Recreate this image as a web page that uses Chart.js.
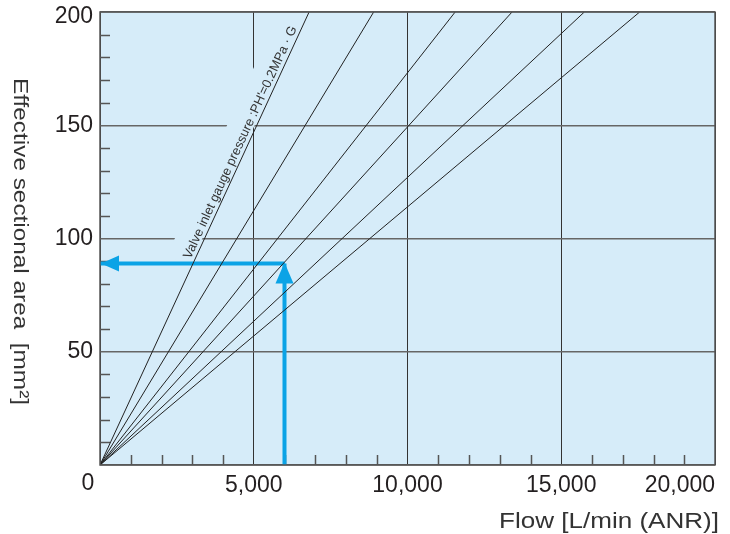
<!DOCTYPE html>
<html>
<head>
<meta charset="utf-8">
<script src="https://cdn.jsdelivr.net/npm/chart.js@4.4.1/dist/chart.umd.min.js"></script>
<style>
  html, body { margin: 0; padding: 0; background: #fff; }
  #wrap { width: 730px; height: 534px; }
</style>
</head>
<body>
<div id="wrap"><canvas id="flowChart" width="730" height="534"></canvas></div>
<script>
// flow [L/min] where each pressure line reaches the top of the chart (200 mm2)
const lineEndFlow = [6800, 8900, 11550, 13400, 15750, 17550];
const lineEndArea = 200;

// example reading shown with the blue arrows
const exampleFlow = 6000;
const exampleArea = 89;

const xMax = 20000;
const yMax = 200;
const xMajor = 5000, xMinor = 1000;
const yMajor = 50, yMinor = 10;

const xTitle = "Flow [L/min (ANR)]";
const yTitle = "Effective sectional area  [mm²]";
const noteText = "Valve inlet gauge pressure :PH'=0.2MPa · G";

const FONT = "'Liberation Sans', Arial, Helvetica, sans-serif";
const TICK_SIZE = 23;
const plotBg = "#d6ecf9";
const arrowBlue = "#0ba3e6";
const textCol = "#231f20";
const xPad = 7, yPad = 7;

function fitText(ctx, text, x, y, width) {
  const w = ctx.measureText(text).width;
  ctx.save();
  ctx.translate(x, y);
  ctx.scale(width / w, 1);
  ctx.fillText(text, 0, 0);
  ctx.restore();
}

const decor = {
  id: 'decor',
  beforeDraw(chart) {
    const { ctx, chartArea: a } = chart;
    ctx.save();
    ctx.fillStyle = plotBg;
    ctx.fillRect(a.left, a.top, a.right - a.left, a.bottom - a.top);
    ctx.restore();
  },
  beforeDatasetsDraw(chart) {
    const { ctx, chartArea: a, scales: { x, y } } = chart;
    ctx.save();
    // short inner ticks
    ctx.strokeStyle = '#555';
    ctx.lineWidth = 1.5;
    ctx.beginPath();
    x.ticks.forEach(t => {
      if (t.value % xMajor === 0) return;
      const px = Math.round(x.getPixelForValue(t.value)) + 0.5;
      ctx.moveTo(px, a.bottom);
      ctx.lineTo(px, a.bottom - 10);
    });
    y.ticks.forEach(t => {
      if (t.value % yMajor === 0) return;
      const py = Math.round(y.getPixelForValue(t.value)) + 0.5;
      ctx.moveTo(a.left, py);
      ctx.lineTo(a.left + 10, py);
    });
    ctx.stroke();

    // note along the first pressure line
    const x0 = x.getPixelForValue(0), y0 = y.getPixelForValue(0);
    const x1 = x.getPixelForValue(lineEndFlow[0]), y1 = y.getPixelForValue(lineEndArea);
    const ang = Math.atan2(y1 - y0, x1 - x0);
    const full = Math.hypot(x1 - x0, y1 - y0);
    const from = 0.45, to = 0.96;
    const len = full * (to - from);
    ctx.translate(x0 + (x1 - x0) * from, y0 + (y1 - y0) * from);
    ctx.rotate(ang);
    ctx.fillStyle = plotBg;
    ctx.fillRect(-6, -27, len + 10, 25);
    ctx.fillStyle = '#333';
    ctx.font = '13px ' + FONT;
    ctx.textBaseline = 'alphabetic';
    fitText(ctx, noteText, 0, -4, len);
    ctx.restore();
  },
  afterDatasetsDraw(chart) {
    const { ctx, scales: { x, y } } = chart;
    const ax = x.getPixelForValue(exampleFlow);
    const ay = y.getPixelForValue(exampleArea);
    const ox = x.getPixelForValue(0);
    ctx.save();
    ctx.fillStyle = arrowBlue;
    // upward head
    ctx.beginPath();
    ctx.moveTo(ax, ay - 1);
    ctx.lineTo(ax - 9, ay + 20);
    ctx.lineTo(ax + 9, ay + 20);
    ctx.closePath();
    ctx.fill();
    // leftward head
    ctx.beginPath();
    ctx.moveTo(ox + 1, ay);
    ctx.lineTo(ox + 19, ay - 8);
    ctx.lineTo(ox + 19, ay + 8);
    ctx.closePath();
    ctx.fill();
    ctx.restore();
  },
  afterDraw(chart) {
    const { ctx, chartArea: a, scales: { x, y } } = chart;
    ctx.save();
    ctx.strokeStyle = '#555';
    ctx.lineWidth = 1.5;
    ctx.strokeRect(a.left, a.top, a.right - a.left, a.bottom - a.top);

    // corner labels: shared origin "0" and the top "200" pushed inside the canvas
    ctx.fillStyle = textCol;
    ctx.font = TICK_SIZE + 'px ' + FONT;
    ctx.textAlign = 'center';
    ctx.textBaseline = 'top';
    ctx.fillText('0', x.getPixelForValue(0) - 12, a.bottom + xPad);
    ctx.textAlign = 'right';
    ctx.textBaseline = 'middle';
    ctx.fillText(String(yMax), a.left - yPad, y.getPixelForValue(yMax) + 5);

    ctx.fillStyle = '#333';
    ctx.textAlign = 'left';
    ctx.textBaseline = 'alphabetic';
    ctx.font = '22px ' + FONT;
    fitText(ctx, xTitle, 499, 528, 220);

    ctx.font = '21px ' + FONT;
    ctx.translate(13.5, 78);
    ctx.rotate(Math.PI / 2);
    fitText(ctx, yTitle, 0, 0, 327);
    ctx.restore();
  }
};

const lineSets = lineEndFlow.map(f => ({
  data: [{ x: 0, y: 0 }, { x: f, y: lineEndArea }],
  borderColor: '#222',
  borderWidth: 1
}));

const arrowSets = [
  { data: [{ x: exampleFlow, y: 0 }, { x: exampleFlow, y: exampleArea }], borderColor: arrowBlue, borderWidth: 4 },
  { data: [{ x: exampleFlow, y: exampleArea }, { x: 0, y: exampleArea }], borderColor: arrowBlue, borderWidth: 4 }
];

new Chart(document.getElementById('flowChart'), {
  type: 'scatter',
  data: { datasets: [...lineSets, ...arrowSets] },
  options: {
    responsive: false,
    animation: false,
    showLine: true,
    elements: { point: { radius: 0, hoverRadius: 0 }, line: { tension: 0 } },
    layout: { padding: { top: 12, right: 15, left: 0, bottom: 0 } },
    plugins: { legend: { display: false }, tooltip: { enabled: false } },
    scales: {
      x: {
        type: 'linear', min: 0, max: xMax,
        afterFit(s) { s.height = 69; s.paddingLeft = 0; s.paddingRight = 0; },
        border: { display: false },
        grid: {
          drawTicks: false,
          lineWidth: 1,
          color: c => (c.tick && c.tick.value % xMajor === 0) ? '#333' : 'rgba(0,0,0,0)'
        },
        ticks: {
          stepSize: xMinor, autoSkip: false, maxRotation: 0, minRotation: 0,
          align: 'inner', padding: xPad, color: textCol,
          font: { family: FONT, size: TICK_SIZE },
          callback: v => (v % xMajor === 0 && v !== 0) ? v.toLocaleString('en-US') : ''
        }
      },
      y: {
        min: 0, max: yMax,
        afterFit(s) { s.width = 100; s.paddingTop = 0; s.paddingBottom = 0; },
        border: { display: false },
        grid: {
          drawTicks: false,
          lineWidth: 1.5,
          color: c => (c.tick && c.tick.value % yMajor === 0) ? '#666' : 'rgba(0,0,0,0)'
        },
        ticks: {
          stepSize: yMinor, autoSkip: false, padding: yPad, color: textCol,
          font: { family: FONT, size: TICK_SIZE },
          callback: v => (v % yMajor === 0 && v !== 0 && v !== yMax) ? v : ''
        }
      }
    }
  },
  plugins: [decor]
});
</script>
</body>
</html>
